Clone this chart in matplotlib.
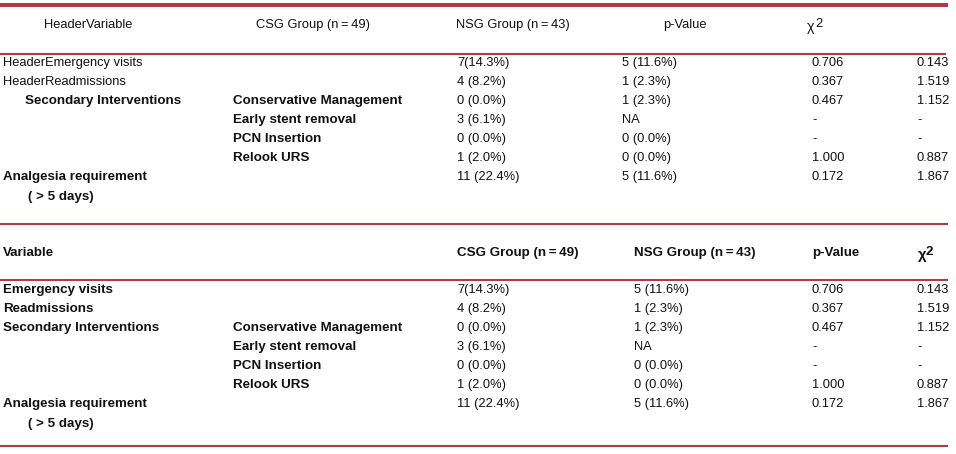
import matplotlib
matplotlib.use("Agg")
import matplotlib.pyplot as plt

# table content
variables = ["Emergency visits", "Readmissions", "Secondary Interventions", "", "", "", "Analgesia requirement"]
subitems = ["", "", "Conservative Management", "Early stent removal", "PCN Insertion", "Relook URS", ""]
csg = ["7(14.3%)", "4 (8.2%)", "0 (0.0%)", "3 (6.1%)", "0 (0.0%)", "1 (2.0%)", "11 (22.4%)"]
nsg = ["5 (11.6%)", "1 (2.3%)", "1 (2.3%)", "NA", "0 (0.0%)", "0 (0.0%)", "5 (11.6%)"]
p_values = ["0.706", "0.367", "0.467", "-", "-", "1.000", "0.172"]
chi2 = ["0.143", "1.519", "1.152", "-", "-", "0.887", "1.867"]
headers = ["Variable", "CSG Group (n\u2009=\u200949)", "NSG Group (n\u2009=\u200943)", "p-Value", "\u03c7"]
extra_line = "( > 5 days)"

RED = "#b23a48"
INK = "#111111"
FAM = ["Liberation Sans", "DejaVu Sans"]
REG = 9.3
BLD = 9.6

fig = plt.figure(figsize=(9.56, 4.54), dpi=100)
ax = fig.add_axes([0, 0, 1, 1])
ax.set_xlim(0, 956)
ax.set_ylim(454, 0)
ax.axis("off")


def txt(x, y, s, bold=False, ha="left", size=None):
    fs = size or (BLD if bold else REG)
    return ax.text(x, y, s, ha=ha, va="center", color=INK, family=FAM,
                   fontsize=fs, fontweight="bold" if bold else "normal")


def rule(y, lw, x0=0, x1=948):
    ax.plot([x0, x1], [y, y], color=RED, lw=lw, solid_capstyle="butt")


def chi_label(x, y, bold=False):
    # chi with a slightly raised "2"
    txt(x, y + 1, headers[4], bold=bold, size=(BLD if bold else REG) + 1)
    txt(x + 8, y - 2, "2", bold=bold)


row_step = 19

# ---- first table (raw header names) ----
rule(5, 2.9)
head1_x = [88, 313, 513, 685]
for x, h in zip(head1_x, headers[:4]):
    txt(x, 25, ("Header" + h) if h == "Variable" else h, ha="center")
chi_label(807, 26)
rule(54, 1.5, 0, 946)

col_x = [3, 233, 457, 622, 812, 917]
y0 = 63
for i in range(len(variables)):
    y = y0 + i * row_step
    v = variables[i]
    if v in ("Emergency visits", "Readmissions"):
        txt(col_x[0], y, "Header" + v)
    elif v == "Secondary Interventions":
        txt(25, y, v, bold=True)
    elif v:
        txt(col_x[0], y, v, bold=True)
    if subitems[i]:
        txt(col_x[1], y, subitems[i], bold=True)
    txt(col_x[2], y, csg[i])
    txt(col_x[3], y, nsg[i])
    txt(col_x[4], y, p_values[i])
    txt(col_x[5], y, chi2[i])
txt(28, y0 + len(variables) * row_step + 1, extra_line, bold=True)

# ---- second table ----
rule(224, 1.5)
head2_x = [3, 457, 634, 812]
for x, h in zip(head2_x, headers[:4]):
    txt(x, 253, h, bold=True)
chi_label(918, 254, bold=True)
rule(280, 1.5)

col_x2 = [3, 233, 457, 634, 812, 917]
y0 = 290
for i in range(len(variables)):
    y = y0 + i * row_step
    if variables[i]:
        txt(col_x2[0], y, variables[i], bold=True)
    if subitems[i]:
        txt(col_x2[1], y, subitems[i], bold=True)
    txt(col_x2[2], y, csg[i])
    txt(col_x2[3], y, nsg[i])
    txt(col_x2[4], y, p_values[i])
    txt(col_x2[5], y, chi2[i])
txt(28, y0 + len(variables) * row_step + 1, extra_line, bold=True)
rule(446, 1.5)

fig.savefig("out.png", dpi=100, facecolor="white")
